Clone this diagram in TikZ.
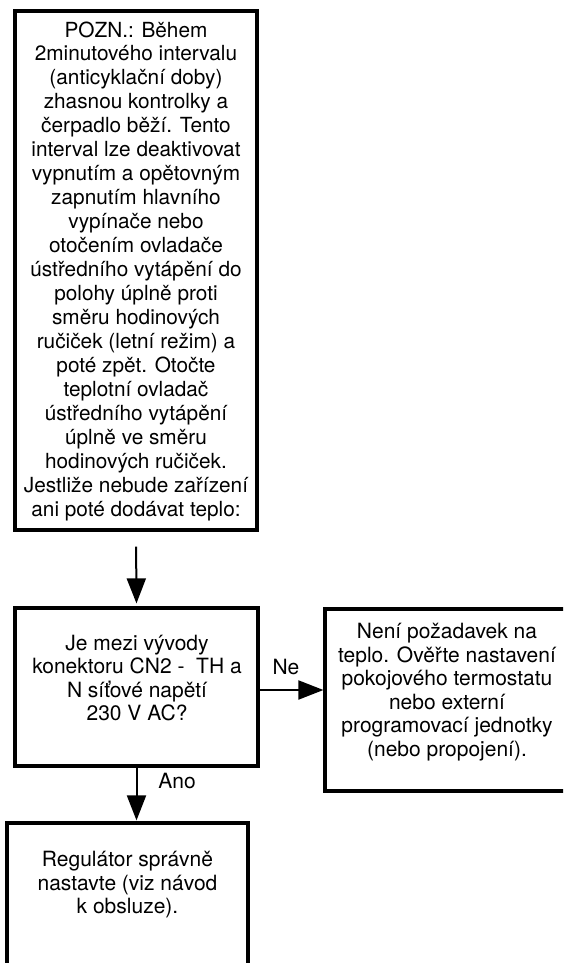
\documentclass[tikz,border=0pt]{standalone}
\usepackage{fontspec}
\setmainfont{TeX Gyre Heros}
\usetikzlibrary{arrows.meta}
\begin{document}
\begin{tikzpicture}[x=1pt,y=-1pt,
  box/.style={draw, line width=3.2pt, inner sep=0pt},
  txt/.style={align=center, inner sep=0pt, font=\fontsize{21}{23.5}\selectfont},
  toptxt/.style={align=center, inner sep=0pt, font=\fontsize{20.8}{23.95}\selectfont},
  lbl/.style={inner sep=0pt, font=\fontsize{21}{24}\selectfont},
  arr/.style={line width=2pt, -{Triangle[length=25pt,width=19pt]}}]
\useasboundingbox (0,0) rectangle (563,963);
\clip (0,0) rectangle (563,963);
% boxes
\node[box, minimum width=242pt, minimum height=519pt] (top) at (136,270.5) {};
\node[box, minimum width=243pt, minimum height=158pt] (mid) at (136.5,687) {};
\node[box, minimum width=244pt, minimum height=182pt] (rbox) at (447,700) {};
\node[box, minimum width=241pt, minimum height=200pt] (bot) at (127.5,923) {};
% texts
\node[toptxt] (ttop) at (136,271) {POZN.: Během\\2minutového intervalu\\(anticyklační doby)\\zhasnou kontrolky a\\čerpadlo běží. Tento\\interval lze deaktivovat\\vypnutím a opětovným\\zapnutím hlavního\\vypínače nebo\\otočením ovladače\\ústředního vytápění do\\polohy úplně proti\\směru hodinových\\ručiček (letní režim) a\\poté zpět. Otočte\\teplotní ovladač\\ústředního vytápění\\úplně ve směru\\hodinových ručiček.\\Jestliže nebude zařízení\\ani poté dodávat teplo:};
\node[txt] (tmid) at (137,678) {Je mezi vývody\\konektoru CN2 -\ \ TH a\\N síťové napětí\\230 V AC?};
\node[txt] (trbox) at (447,692) {Není požadavek na\\teplo. Ověřte nastavení\\pokojového termostatu\\nebo externí\\programovací jednotky\\(nebo propojení).};
\node[txt] (tbot) at (127.5,885) {Regulátor správně\\nastavte (viz návod\\k obsluze).};
% labels
\node[lbl] (ne) at (286,667) {Ne};
\node[lbl] (ano) at (177,781) {Ano};
% connectors
\draw[arr, shorten <=15pt, shorten >=3pt] (top.south) -- (mid.north);
\draw[arr] ([yshift=-3pt]mid.east) -- ([yshift=-3pt]mid.east -| rbox.west);
\draw[arr, shorten >=1pt] (mid.south) -- (mid.south |- bot.north);
\end{tikzpicture}
\end{document}
